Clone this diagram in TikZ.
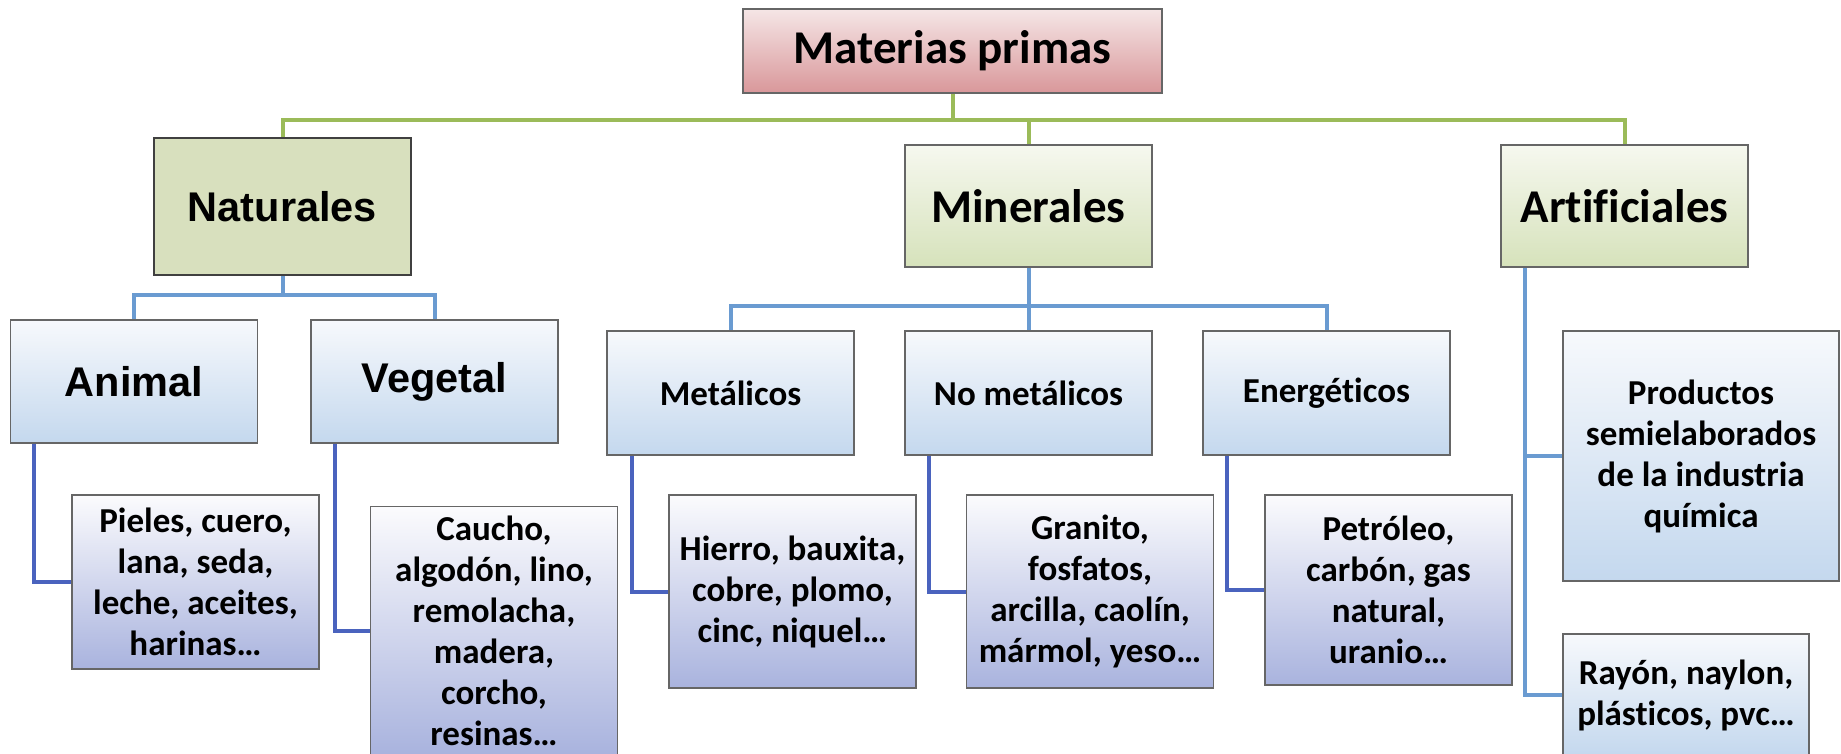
\documentclass[tikz,border=0pt]{standalone}
\usepackage{fontspec}
\setmainfont{Carlito}[Ligatures=NoCommon]
\newfontfamily\arialfont{Liberation Sans}
\usetikzlibrary{positioning}

\definecolor{busgreen}{HTML}{9BBB59}
\definecolor{buslight}{HTML}{6A9BD1}
\definecolor{busdark}{HTML}{4A63BE}
\definecolor{rosetop}{HTML}{F5E6E6}
\definecolor{rosebot}{HTML}{D9979A}
\definecolor{olivefill}{HTML}{D8E0BE}
\definecolor{olivetop}{HTML}{F6F8EF}
\definecolor{olivebot}{HTML}{D6E2BB}
\definecolor{bluetop}{HTML}{F7F9FC}
\definecolor{bluebot}{HTML}{C4D8EE}
\definecolor{lilactop}{HTML}{FBFBFD}
\definecolor{lilacbot}{HTML}{A9B3DE}

\begin{document}
\begin{tikzpicture}[x=1pt, y=-1pt,
    % Styles
    root/.style={draw=gray!80!black, line width=1.5pt, top color=rosetop, bottom color=rosebot, minimum width=419pt, minimum height=84pt, inner sep=0pt, font=\fontsize{47}{56}\selectfont\bfseries},
    kind/.style={draw=gray!80!black, line width=1.5pt, top color=olivetop, bottom color=olivebot, minimum width=247pt, minimum height=122pt, inner sep=0pt, font=\fontsize{47}{56}\selectfont\bfseries},
    flatkind/.style={draw=black!75, line width=2pt, fill=olivefill, minimum width=257pt, minimum height=137pt, inner sep=0pt, font=\arialfont\fontsize{41.5}{50}\selectfont\bfseries},
    group/.style={draw=gray!80!black, line width=1.5pt, top color=bluetop, bottom color=bluebot, minimum width=247pt, minimum height=124pt, inner sep=0pt, align=center, font=\fontsize{35}{41}\selectfont\bfseries},
    sample/.style={draw=gray!80!black, line width=1.5pt, top color=lilactop, bottom color=lilacbot, minimum width=247pt, inner sep=0pt, align=center, font=\fontsize{35}{41}\selectfont\bfseries},
    top-line/.style={busgreen, line width=4pt},
    mid-line/.style={buslight, line width=4pt},
    low-line/.style={busdark, line width=4pt},
]
\useasboundingbox (0,0) rectangle (1841,753);

% Top level
\node[root] (materias) at (952.5, 51) {Materias primas};

% Three kinds
\node[flatkind] (naturales) at (282.5, 206.5) {Naturales};
\node[kind] (minerales) at (1028.5, 206) {Minerales};
\node[kind] (artificiales) at (1624.5, 206) {Artificiales};

\draw[top-line] (materias.south) -- ++(0,26) -| (naturales.north);
\draw[top-line] (materias.south) -- ++(0,26) -| (minerales.north);
\draw[top-line] (materias.south) -- ++(0,26) -| (artificiales.north);

% Naturales branch
\node[group, minimum height=123pt, font=\arialfont\fontsize{41.5}{50}\selectfont\bfseries] (animal) at (134, 381.5) {Animal};
\node[group, minimum height=123pt, font=\arialfont\fontsize{41.5}{50}\selectfont\bfseries, right=52pt of animal] (vegetal) {Vegetal};
\draw[mid-line] (naturales.south) -- ++(0,19) -| (animal.north);
\draw[mid-line] (naturales.south) -- ++(0,19) -| (vegetal.north);

\node[sample, minimum height=174pt] (pieles) at (195.5, 582)
    {Pieles, cuero,\\lana, seda,\\leche, aceites,\\harinas…};
\node[sample, minimum height=248pt] (caucho) at (494, 630.5)
    {Caucho,\\algodón, lino,\\remolacha,\\madera,\\corcho,\\resinas…};
\draw[low-line] ([xshift=24pt]animal.south west) |- (pieles.west);
\draw[low-line] ([xshift=25pt]vegetal.south west) |- (caucho.west);

% Minerales branch
\node[group] (metalicos) at (730.5, 393) {Metálicos};
\node[group] (nometalicos) at (1028.5, 393) {No metálicos};
\node[group] (energeticos) at (1326.5, 393) {Energéticos};
\draw[mid-line] (minerales.south) -- ++(0,38.5) -| (metalicos.north);
\draw[mid-line] (minerales.south) -- (nometalicos.north);
\draw[mid-line] (minerales.south) -- ++(0,38.5) -| (energeticos.north);

\node[sample, minimum height=193pt] (hierro) at (792.5, 591.5)
    {Hierro, bauxita,\\cobre, plomo,\\cinc, niquel…};
\node[sample, minimum height=193pt] (granito) at (1090, 591.5)
    {Granito,\\fosfatos,\\arcilla, caolín,\\mármol, yeso…};
\node[sample, minimum height=190pt] (petroleo) at (1388.5, 590)
    {Petróleo,\\carbón, gas\\natural,\\uranio…};
\draw[low-line] ([xshift=26pt]metalicos.south west) |- (hierro.west);
\draw[low-line] ([xshift=25pt]nometalicos.south west) |- (granito.west);
\draw[low-line] ([xshift=24.5pt]energeticos.south west) |- (petroleo.west);

% Artificiales branch
\node[group, minimum width=276pt, minimum height=250pt] (productos) at (1701, 456)
    {Productos\\semielaborados\\de la industria\\química};
\node[group, minimum width=246pt, minimum height=122pt] (rayon) at (1686, 695)
    {Rayón, naylon,\\plásticos, pvc…};
\draw[mid-line] ([xshift=25pt]artificiales.south west) |- (productos.west);
\draw[mid-line] ([xshift=25pt]artificiales.south west) |- (rayon.west);

\end{tikzpicture}
\end{document}
